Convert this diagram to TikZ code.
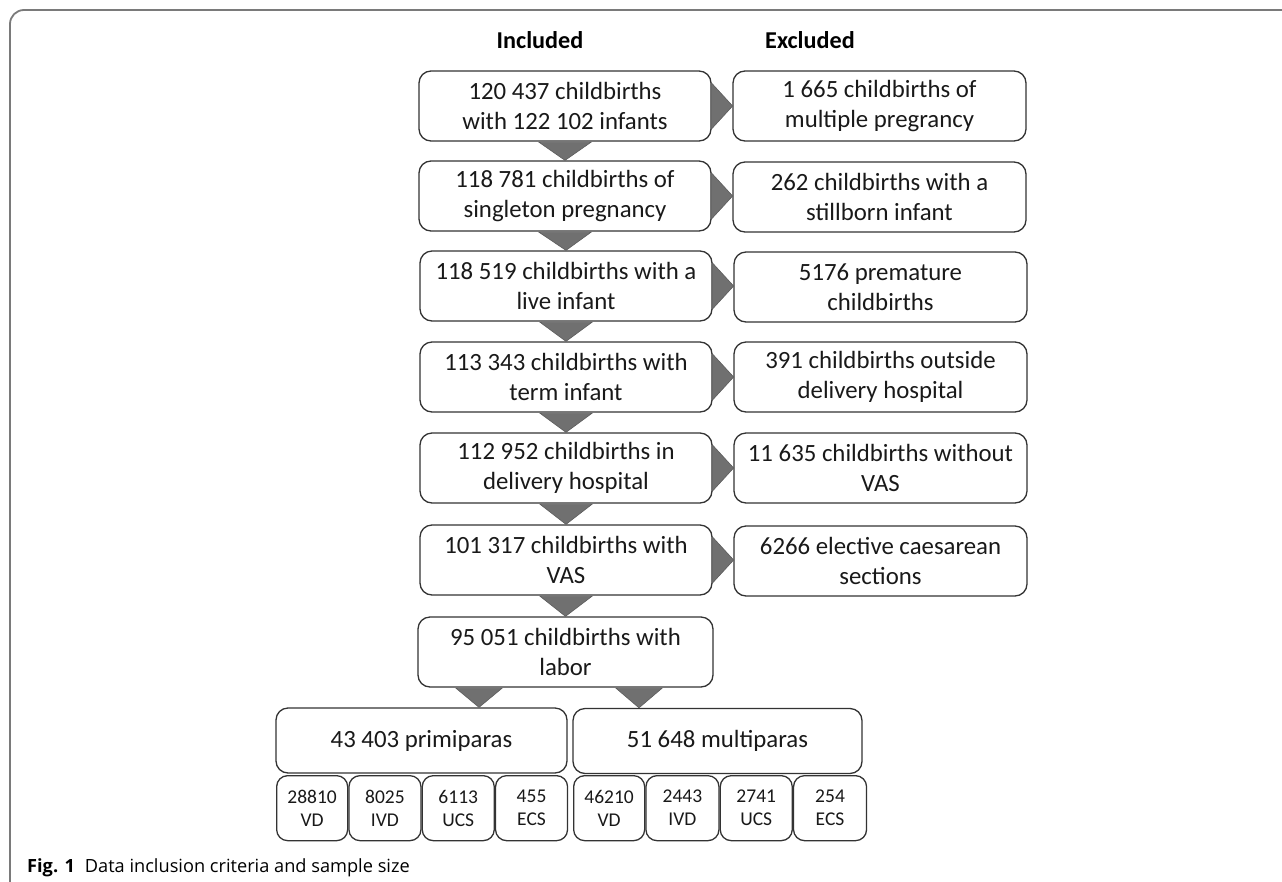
\documentclass[tikz,border=0pt]{standalone}
\usepackage{fontspec}
\setmainfont{Carlito}
\newfontfamily\capfont{Open Sans}
\usetikzlibrary{calc}
\definecolor{boxline}{HTML}{333333}
\definecolor{trifill}{HTML}{707070}
\definecolor{framecol}{HTML}{7A7A7A}
\tikzset{
  flowbox/.style={draw=boxline, line width=1.3pt, rounded corners=12pt, minimum width=292pt, minimum height=70pt, align=center, inner sep=0pt, font=\fontsize{24.8}{30}\selectfont, text=black!90},
  bigbox/.style={flowbox, minimum height=65pt},
  smallbox/.style={draw=boxline, line width=1.3pt, rounded corners=11pt, minimum height=65pt, align=center, inner sep=0pt, font=\fontsize{19.5}{23}\selectfont, text=black!90},
  tri/.style={fill=trifill, draw=boxline!80, line width=0.6pt, line join=miter},
  hdr/.style={font=\bfseries\fontsize{24.2}{28}\selectfont, inner sep=0pt},
}
\begin{document}
\begin{tikzpicture}[x=1pt, y=-1pt]
\useasboundingbox (0,0) rectangle (1282,881);
\begin{scope}
\clip (0,0) rectangle (1282,881);
\draw[framecol, line width=1.8pt, rounded corners=14pt] (10,900) -- (10,10) -- (1300,10);
\end{scope}

\node[hdr] (hinc) at (540,40) {Included};
\node[hdr] (hexc) at (810,40) {Excluded};

% included column
\node[flowbox] (i1) at (565,106) {120 437 childbirths\\with 122 102 infants};
\node[flowbox] (i2) at (565,196) {118 781 childbirths of\\singleton pregnancy};
\node[flowbox] (i3) at (566,286) {118 519 childbirths with a\\live infant};
\node[flowbox] (i4) at (566,377) {113 343 childbirths with\\term infant};
\node[flowbox] (i5) at (566,468) {112 952 childbirths in\\delivery hospital};
\node[flowbox] (i6) at (566,560) {101 317 childbirths with\\VAS};
\node[flowbox, minimum width=295pt] (i7) at (565.5,652) {95 051 childbirths with\\labor};

% excluded column
\node[flowbox, minimum width=293pt] (e1) at (879.5,106) {1 665 childbirths of\\multiple pregrancy};
\node[flowbox, minimum width=293pt] (e2) at (879.5,197) {262 childbirths with a\\stillborn infant};
\node[flowbox, minimum width=293pt] (e3) at (880.5,287) {5176 premature\\childbirths};
\node[flowbox, minimum width=293pt] (e4) at (880.5,377) {391 childbirths outside\\delivery hospital};
\node[flowbox, minimum width=293pt] (e5) at (880.5,468) {11 635 childbirths without\\VAS};
\node[flowbox, minimum width=293pt] (e6) at (880.5,561) {6266 elective caesarean\\sections};

% parity boxes
\node[bigbox, minimum width=291pt] (p1) at (421.5,740.5) {43 403 primiparas};
\node[bigbox, minimum width=289pt] (p2) at (717.5,741) {51 648 multiparas};

% sub boxes
\node[smallbox, minimum width=71pt, anchor=north west] (s1) at (276,775) {28810\\VD};
\node[smallbox, minimum width=72pt, anchor=north west] (s2) at (s1.north east) {8025\\IVD};
\node[smallbox, minimum width=72pt, anchor=north west] (s3) at (s2.north east) {6113\\UCS};
\node[smallbox, minimum width=72pt, anchor=north west] (s4) at (s3.north east) {455\\ECS};
\node[smallbox, minimum width=71pt, anchor=north west] (s5) at (573,775) {46210\\VD};
\node[smallbox, minimum width=73pt, anchor=north west] (s6) at (s5.north east) {2443\\IVD};
\node[smallbox, minimum width=72pt, anchor=north west] (s7) at (s6.north east) {2741\\UCS};
\node[smallbox, minimum width=73pt, anchor=north west] (s8) at (s7.north east) {254\\ECS};

% down triangles
\foreach \a/\b in {i1/i2,i2/i3,i3/i4,i4/i5,i5/i6,i6/i7}{
  \fill[tri] ($(\a.south)+(-26,0.6)$) -- ($(\a.south)+(26,0.6)$) -- (\b.north) -- cycle;
}
% right triangles
\foreach \a/\b in {i1/e1,i2/e2,i3/e3,i4/e4,i5/e5,i6/e6}{
  \fill[tri] ($(\a.east)+(-0.6,-23.5)$) -- ($(\a.east)+(-0.6,23.5)$) -- ($(\a.east)+(21,0)$) -- cycle;
}
% split triangles
\coordinate (t1) at (479,707);
\coordinate (t2) at (639,707);
\fill[tri] ($(t1 |- i7.south)+(-23,0.6)$) -- ($(t1 |- i7.south)+(23,0.6)$) -- (t1 |- p1.north) -- cycle;
\fill[tri] ($(t2 |- i7.south)+(-23,0.6)$) -- ($(t2 |- i7.south)+(23,0.6)$) -- (t2 |- p2.north) -- cycle;

% caption
\node[anchor=base west, inner sep=0pt, font=\capfont\fontsize{18.2}{21}\selectfont] (cap) at (27,872) {\textbf{Fig. 1}\hspace{10pt}Data inclusion criteria and sample size};
\end{tikzpicture}
\end{document}
